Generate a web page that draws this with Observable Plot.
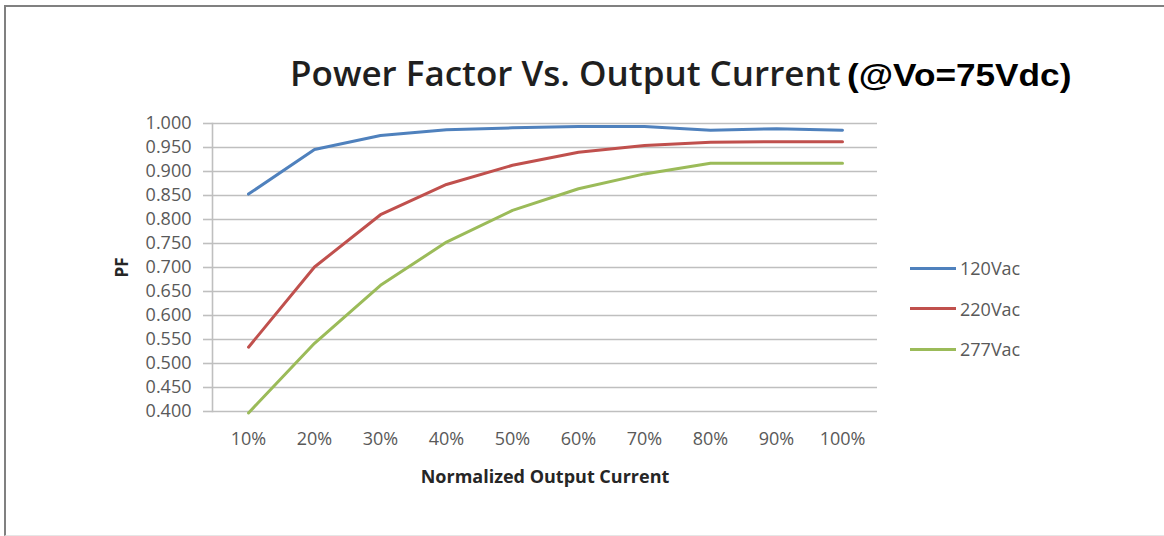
<!DOCTYPE html>
<html>
<head>
<meta charset="utf-8">
<script src="https://cdn.jsdelivr.net/npm/d3@7"></script>
<script src="https://cdn.jsdelivr.net/npm/@observablehq/plot@0.6"></script>
<style>
  body { margin: 0; background: #fff; }
  #wrap { position: relative; width: 1164px; height: 536px; overflow: hidden; font-family: "Open Sans", sans-serif; }
  #frame { position: absolute; left: 4px; top: 5px; right: -2px; bottom: 0px; border-top: 2px solid #808080; border-left: 2px solid #808080; border-bottom: 1px solid #e6e6e6; }
  #title { position: absolute; left: 290px; top: 49px; white-space: nowrap; line-height: 48px; }
  #t1 { font-family: "Open Sans", sans-serif; font-weight: 600; font-size: 35px; color: #1f1f1f; }
  #t2 { font-family: "Liberation Sans", Arial, sans-serif; font-weight: bold; font-size: 32px; color: #000; display: inline-block; transform: scaleX(1.1); transform-origin: left center; margin-left: 6px; }
  #chart { position: absolute; left: 0; top: 100px; }
  #legend { position: absolute; left: 910px; top: 248px; }
  .item { display: flex; align-items: center; height: 40.5px; font-size: 18px; color: #595959; }
  .swatch { width: 46px; height: 3px; margin-right: 4px; }
</style>
</head>
<body>
<div id="wrap">
  <div id="frame"></div>
  <div id="title"><span id="t1">Power Factor Vs. Output Current</span><span id="t2">(@Vo=75Vdc)</span></div>
  <div id="chart"></div>
  <div id="legend"></div>
</div>
<script>
const categories = ["10%", "20%", "30%", "40%", "50%", "60%", "70%", "80%", "90%", "100%"];
const seriesNames = ["120Vac", "220Vac", "277Vac"];
const pf120 = [0.853, 0.946, 0.975, 0.987, 0.991, 0.994, 0.994, 0.986, 0.989, 0.986];
const pf220 = [0.534, 0.701, 0.810, 0.873, 0.913, 0.940, 0.954, 0.961, 0.962, 0.962];
const pf277 = [0.397, 0.542, 0.663, 0.753, 0.819, 0.864, 0.895, 0.917, 0.917, 0.917];
const seriesColors = ["#4f81bd", "#c0504d", "#9bbb59"];
const yTicks = [0.400, 0.450, 0.500, 0.550, 0.600, 0.650, 0.700, 0.750, 0.800, 0.850, 0.900, 0.950, 1.000];

const values = [pf120, pf220, pf277];
const data = seriesNames.flatMap((s, i) => categories.map((c, j) => ({series: s, cat: c, pf: values[i][j]})));

const chart = Plot.plot({
  width: 1164,
  height: 400,
  marginTop: 23,
  marginBottom: 89,
  marginLeft: 212,
  marginRight: 287,
  style: {fontFamily: "'Open Sans', sans-serif", background: "transparent"},
  x: {type: "point", domain: categories, padding: 0.5},
  y: {domain: [0.4, 1.0]},
  color: {domain: seriesNames, range: seriesColors},
  marks: [
    Plot.gridY(yTicks, {stroke: "#bfbfbf", strokeOpacity: 1, strokeWidth: 1.6}),
    Plot.axisY(yTicks, {tickSize: 9, tickPadding: 12, stroke: "#bfbfbf", strokeWidth: 1.6, fill: "#595959", fontSize: 18, tickFormat: d3.format(".3f"), label: null}),
    Plot.axisY([], {label: "PF", labelArrow: "none", labelAnchor: "center", labelOffset: 97, fontSize: 17, fontWeight: "bold", fill: "#262626", tickSize: 0}),
    Plot.frame({anchor: "left", stroke: "#bfbfbf", strokeWidth: 1.6}),
    Plot.axisX(categories, {tickSize: 0, tickPadding: 21, fill: "#595959", fontSize: 18, label: null}),
    Plot.axisX([], {label: "Normalized Output Current", labelArrow: "none", labelAnchor: "center", labelOffset: 71, fontSize: 18, fontWeight: "bold", fill: "#262626", tickSize: 0}),
    Plot.line(data, {x: "cat", y: "pf", z: "series", stroke: "series", strokeWidth: 3, strokeLinejoin: "round"})
  ]
});
document.getElementById("chart").appendChild(chart);

const legend = document.getElementById("legend");
seriesNames.forEach((s, i) => {
  const item = document.createElement("div");
  item.className = "item";
  const sw = document.createElement("div");
  sw.className = "swatch";
  sw.style.background = seriesColors[i];
  const label = document.createElement("span");
  label.textContent = s;
  item.appendChild(sw);
  item.appendChild(label);
  legend.appendChild(item);
});
</script>
</body>
</html>
